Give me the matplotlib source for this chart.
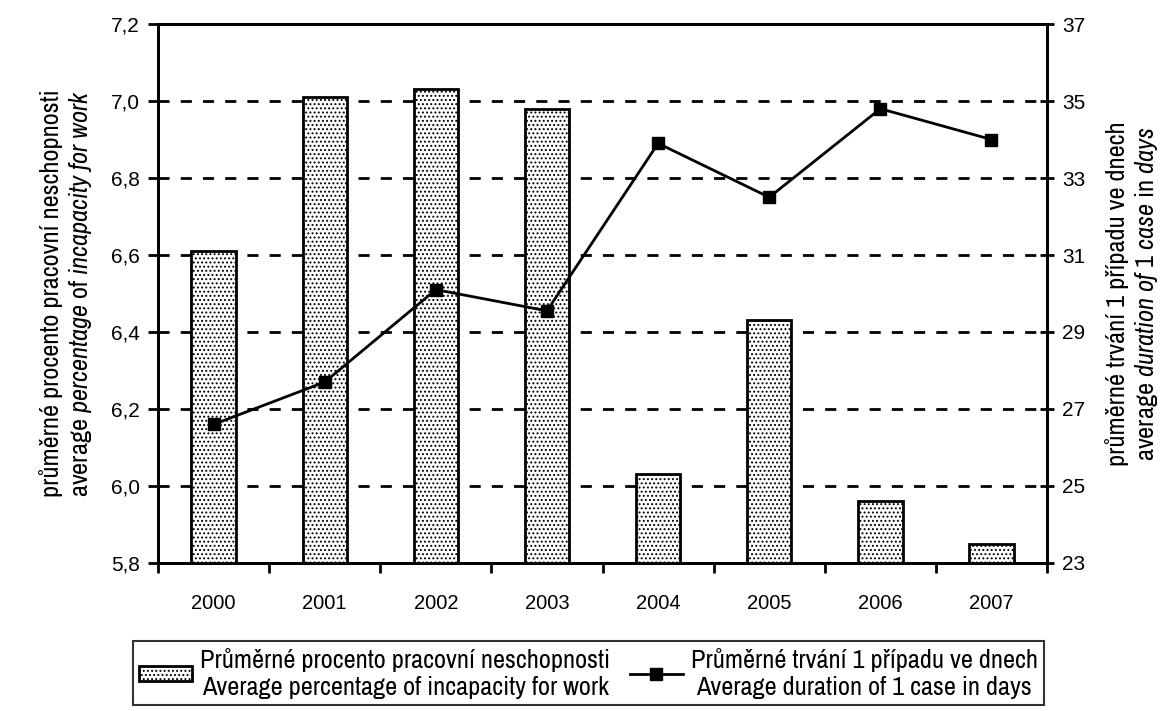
import matplotlib
matplotlib.use('Agg')
import matplotlib.pyplot as plt
from matplotlib import font_manager
import numpy as np

years = ['2000', '2001', '2002', '2003', '2004', '2005', '2006', '2007']
pct_incapacity = [6.61, 7.01, 7.03, 6.98, 6.03, 6.43, 5.96, 5.85]
avg_duration = [26.6, 27.7, 30.1, 29.55, 33.9, 32.5, 34.8, 34.0]

left_ticks = [5.8, 6.0, 6.2, 6.4, 6.6, 6.8, 7.0, 7.2]
right_ticks = [23, 25, 27, 29, 31, 33, 35, 37]

bar_label = 'Průměrné procento pracovní neschopnosti\nAverage percentage of incapacity for work'
line_label = 'Průměrné trvání 1 případu ve dnech\nAverage duration of 1 case in days'

# narrow font for the labels (Arial Narrow look-alike)
names = {f.name for f in font_manager.fontManager.ttflist}
narrow = 'Archivo Narrow' if 'Archivo Narrow' in names else 'DejaVu Sans'
plt.rcParams['font.family'] = ['Liberation Sans', 'DejaVu Sans']
plt.rcParams['mathtext.fontset'] = 'custom'
plt.rcParams['mathtext.rm'] = narrow
plt.rcParams['mathtext.it'] = narrow + ':italic'
plt.rcParams['hatch.color'] = '#8a8a8a'
plt.rcParams['hatch.linewidth'] = 0.9

fig = plt.figure(figsize=(11.63, 7.11), dpi=100)
ax = fig.add_axes([0.1359, 0.2082, 0.7644, 0.758])
ax2 = ax.twinx()

x = np.arange(len(years))
ax.bar(x, pct_incapacity, width=0.4, color='white', edgecolor='black',
       linewidth=2, hatch='....', label=bar_label, zorder=3)
ax.set_ylim(5.8, 7.2)
ax.set_xlim(-0.5, len(years) - 0.5)
ax.set_yticks(left_ticks)
ax.set_yticklabels([('%.1f' % v).replace('.', ',') for v in left_ticks], fontsize=15)
ax.set_xticks(x)
ax.set_xticklabels(years, fontsize=14.5)
ax.set_xticks(np.arange(len(years) + 1) - 0.5, minor=True)
ax.tick_params(axis='x', which='major', length=0, pad=22)
ax.tick_params(axis='x', which='minor', length=7, width=2, direction='out')
ax.tick_params(axis='y', length=7, width=2, direction='out', pad=6)
for v in left_ticks[1:-1]:
    ax.axhline(v, color='black', lw=2, ls=(0, (4, 4)), zorder=1)

ax2.plot(x, avg_duration, color='black', lw=2, marker='s', markersize=8, label=line_label, zorder=4)
ax2.set_ylim(23, 37)
ax2.set_yticks(right_ticks)
ax2.set_yticklabels([str(v) for v in right_ticks], fontsize=15)
ax2.tick_params(axis='y', length=10, width=2, direction='inout', pad=6)

for a in (ax, ax2):
    for s in a.spines.values():
        s.set_linewidth(2)

ax.set_ylabel('průměrné procento pracovní neschopnosti\n'
              r'average $\mathit{percentage}$ of $\mathit{incapacity\ for\ work}$',
              fontsize=19, family=narrow, labelpad=12)
ax2.set_ylabel('průměrné trvání 1 případu ve dnech\n'
               r'average $\mathit{duration\ of\ 1\ case}$ in $\mathit{days}$',
               fontsize=19, family=narrow, labelpad=14)

h1, l1 = ax.get_legend_handles_labels()
h2, l2 = ax2.get_legend_handles_labels()
leg = fig.legend(h1 + h2, l1 + l2, ncol=2, loc='lower center', bbox_to_anchor=(0.506, 0.008),
                 prop={'family': narrow, 'size': 19}, frameon=True, fancybox=False,
                 edgecolor='black', handlelength=2.0, handleheight=0.55, handletextpad=0.3,
                 columnspacing=0.75, borderpad=0.25, labelspacing=0.2, borderaxespad=0)
leg.get_frame().set_linewidth(1.5)
for t in leg.get_texts():
    t.set_multialignment('center')

fig.savefig('out.png', dpi=100)
